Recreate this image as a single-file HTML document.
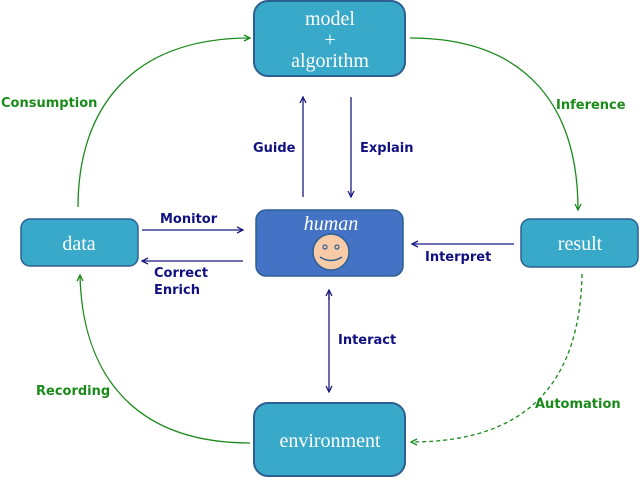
<!DOCTYPE html>
<html><head><meta charset="utf-8"><style>
html,body{margin:0;padding:0;background:#fff;}
svg{display:block;}
.lb{font-family:"DejaVu Sans","Liberation Sans",sans-serif;font-weight:bold;font-size:13px;}
.bx{font-family:"Liberation Serif",serif;font-size:20px;fill:#fff;}
</style></head><body>
<svg width="640" height="480" viewBox="0 0 640 480" xmlns="http://www.w3.org/2000/svg">
<defs>
<marker id="ab" markerWidth="8" markerHeight="8" refX="7" refY="4" orient="auto" markerUnits="userSpaceOnUse"><path d="M1,1 L7,4 L1,7" fill="none" stroke="#1a1a80" stroke-width="1.3"/></marker>
<marker id="ag" markerWidth="8" markerHeight="8" refX="7" refY="4" orient="auto" markerUnits="userSpaceOnUse"><path d="M1,1 L7,4 L1,7" fill="none" stroke="#1a8a1a" stroke-width="1.3"/></marker>
</defs>
<!-- boxes -->
<rect x="254" y="1" width="151" height="75" rx="14" fill="#38a9c8" stroke="#2e5f93" stroke-width="2"/>
<text class="bx" x="330" y="25" text-anchor="middle">model</text>
<text class="bx" x="330" y="46" text-anchor="middle">+</text>
<text class="bx" x="330" y="67" text-anchor="middle">algorithm</text>
<rect x="256" y="210" width="147" height="66" rx="10" fill="#4472c4" stroke="#2e5f93" stroke-width="1.5"/>
<text x="331" y="230" text-anchor="middle" font-family="Liberation Serif,serif" font-style="italic" font-size="20" fill="#fff">human</text>
<circle cx="331" cy="252" r="18" fill="#f8cba8" stroke="#2e5f93" stroke-width="1.5"/>
<circle cx="325" cy="247" r="2" fill="none" stroke="#2e5f93" stroke-width="1.2"/>
<circle cx="337" cy="247" r="2" fill="none" stroke="#2e5f93" stroke-width="1.2"/>
<path d="M320,257 Q331,264 342,257" fill="none" stroke="#2e5f93" stroke-width="1.5"/>
<rect x="21" y="219" width="117" height="47" rx="9" fill="#38a9c8" stroke="#2e5f93" stroke-width="1.5"/>
<text class="bx" x="79" y="250" text-anchor="middle">data</text>
<rect x="521" y="219" width="117" height="48" rx="9" fill="#38a9c8" stroke="#2e5f93" stroke-width="1.5"/>
<text class="bx" x="580" y="250" text-anchor="middle">result</text>
<rect x="254" y="403" width="151" height="73" rx="14" fill="#38a9c8" stroke="#2e5f93" stroke-width="2"/>
<text class="bx" x="330" y="447" text-anchor="middle">environment</text>
<!-- blue arrows -->
<line x1="303" y1="197" x2="303" y2="97" stroke="#1a1a80" stroke-width="1.3" marker-end="url(#ab)"/>
<line x1="351" y1="97" x2="351" y2="197" stroke="#1a1a80" stroke-width="1.3" marker-end="url(#ab)"/>
<text class="lb" x="253" y="152" fill="#101080">Guide</text>
<text class="lb" x="360" y="152" fill="#101080">Explain</text>
<line x1="142" y1="230" x2="243" y2="230" stroke="#1a1a80" stroke-width="1.3" marker-end="url(#ab)"/>
<line x1="243" y1="261" x2="142" y2="261" stroke="#1a1a80" stroke-width="1.3" marker-end="url(#ab)"/>
<text class="lb" x="160" y="223" fill="#101080">Monitor</text>
<text class="lb" x="154" y="277" fill="#101080">Correct</text>
<text class="lb" x="154" y="294" fill="#101080">Enrich</text>
<line x1="514" y1="244" x2="412" y2="244" stroke="#1a1a80" stroke-width="1.3" marker-end="url(#ab)"/>
<text class="lb" x="425" y="261" fill="#101080">Interpret</text>
<line x1="329" y1="300" x2="329" y2="290" stroke="#1a1a80" stroke-width="1.3" marker-end="url(#ab)"/>
<line x1="329" y1="292" x2="329" y2="392" stroke="#1a1a80" stroke-width="1.3" marker-end="url(#ab)"/>
<text class="lb" x="338" y="344" fill="#101080">Interact</text>
<!-- green curves -->
<path d="M78,207 C78,110 130,38 250,38" fill="none" stroke="#1a8a1a" stroke-width="1.3" marker-end="url(#ag)"/>
<path d="M410,38 C530,38 578,110 578,210" fill="none" stroke="#1a8a1a" stroke-width="1.3" marker-end="url(#ag)"/>
<path d="M250,443 C130,443 82,370 80,275" fill="none" stroke="#1a8a1a" stroke-width="1.3" marker-end="url(#ag)"/>
<path d="M582,274 C580,380 530,442 411,442" fill="none" stroke="#1a8a1a" stroke-width="1.3" stroke-dasharray="4,3" marker-end="url(#ag)"/>
<text class="lb" x="1" y="107" fill="#1a8a1a">Consumption</text>
<text class="lb" x="556" y="109" fill="#1a8a1a">Inference</text>
<text class="lb" x="36" y="395" fill="#1a8a1a">Recording</text>
<text class="lb" x="535" y="408" fill="#1a8a1a">Automation</text>
</svg>
</body></html>
